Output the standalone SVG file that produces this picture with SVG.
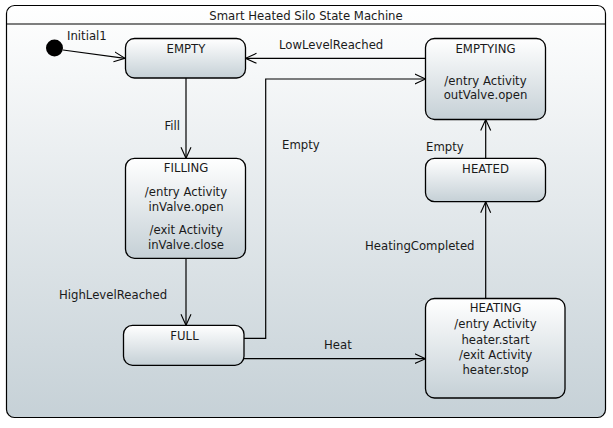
<svg xmlns="http://www.w3.org/2000/svg" width="613" height="428" viewBox="0 0 613 428">
<defs>
<linearGradient id="gFrame" x1="0" y1="0" x2="0" y2="1">
<stop offset="0" stop-color="#ffffff"/>
<stop offset="1" stop-color="#c6d1d7"/>
</linearGradient>
<linearGradient id="gNode" x1="0" y1="0" x2="0" y2="1">
<stop offset="0" stop-color="#ffffff"/>
<stop offset="1" stop-color="#c5d0d6"/>
</linearGradient>
<marker id="arr" viewBox="0 0 12 12" refX="11" refY="6" markerWidth="12" markerHeight="12" markerUnits="userSpaceOnUse" orient="auto">
<path d="M0,1 L11,6 L0,11" fill="none" stroke="#000" stroke-width="1.1"/>
</marker>
</defs>
<style>
text{font-family:"DejaVu Sans","Noto Sans",sans-serif;font-size:11.7px;fill:#1a1a1a}
.c{text-anchor:middle}
.node{fill:url(#gNode);stroke:#000;stroke-width:1.3}
.edge{fill:none;stroke:#000;stroke-width:1.2;marker-end:url(#arr)}
</style>
<rect width="613" height="428" fill="#ffffff"/>
<g id="frame">
<rect x="6.5" y="5.5" width="599" height="412" rx="8" ry="8" fill="url(#gFrame)" stroke="#000" stroke-width="1.2"/>
<line x1="6.5" y1="24" x2="605.5" y2="24" stroke="#000" stroke-width="1.2"/>
<text class="c" x="306" y="20">Smart Heated Silo State Machine</text>
</g>
<g id="connectors">
<line class="edge" x1="63" y1="50" x2="125" y2="58.3"/>
<line class="edge" x1="425.5" y1="58.3" x2="245.5" y2="58.3"/>
<line class="edge" x1="186" y1="78" x2="186" y2="158.3"/>
<line class="edge" x1="186" y1="258.3" x2="186" y2="325.3"/>
<polyline class="edge" points="244,338.3 265.7,338.3 265.7,79 425.5,79"/>
<line class="edge" x1="244" y1="358.7" x2="425.5" y2="358.7"/>
<line class="edge" x1="485.7" y1="298.5" x2="485.7" y2="201.7"/>
<line class="edge" x1="485.7" y1="158.3" x2="485.7" y2="119.5"/>
<text x="67" y="40">Initial1</text>
<text x="279" y="49.3">LowLevelReached</text>
<text x="164.5" y="130">Fill</text>
<text x="59" y="299">HighLevelReached</text>
<text x="282" y="149">Empty</text>
<text x="324" y="349.3">Heat</text>
<text x="365" y="249.5">HeatingCompleted</text>
<text x="426" y="151">Empty</text>
</g>
<g id="Initial1">
<circle cx="54.5" cy="48" r="8.5" fill="#000"/>
</g>
<g id="EMPTY">
<rect class="node" x="125.5" y="38.5" width="120" height="39.5" rx="9"/>
<text class="c" x="186" y="53">EMPTY</text>
</g>
<g id="EMPTYING">
<rect class="node" x="425.5" y="38.5" width="120" height="81" rx="9"/>
<text class="c" x="485.5" y="53">EMPTYING</text>
<text class="c" x="485.5" y="84.5">/entry Activity</text>
<text class="c" x="485.5" y="99.3">outValve.open</text>
</g>
<g id="FILLING">
<rect class="node" x="125.5" y="158.3" width="120" height="100" rx="9"/>
<text class="c" x="186" y="172.3">FILLING</text>
<text class="c" x="186" y="196">/entry Activity</text>
<text class="c" x="186" y="210.7">inValve.open</text>
<text class="c" x="186" y="234.3">/exit Activity</text>
<text class="c" x="186" y="249.3">inValve.close</text>
</g>
<g id="FULL">
<rect class="node" x="123.5" y="325.3" width="120.5" height="40" rx="9"/>
<text class="c" x="184.5" y="340">FULL</text>
</g>
<g id="HEATED">
<rect class="node" x="425.5" y="158.3" width="120" height="43.4" rx="9"/>
<text class="c" x="485.5" y="172.7">HEATED</text>
</g>
<g id="HEATING">
<rect class="node" x="425.5" y="298.5" width="139.5" height="99.5" rx="9"/>
<text class="c" x="495.5" y="312.3">HEATING</text>
<text class="c" x="495.5" y="328.3">/entry Activity</text>
<text class="c" x="495.5" y="343.5">heater.start</text>
<text class="c" x="495.5" y="359">/exit Activity</text>
<text class="c" x="495.5" y="374.3">heater.stop</text>
</g>
</svg>
